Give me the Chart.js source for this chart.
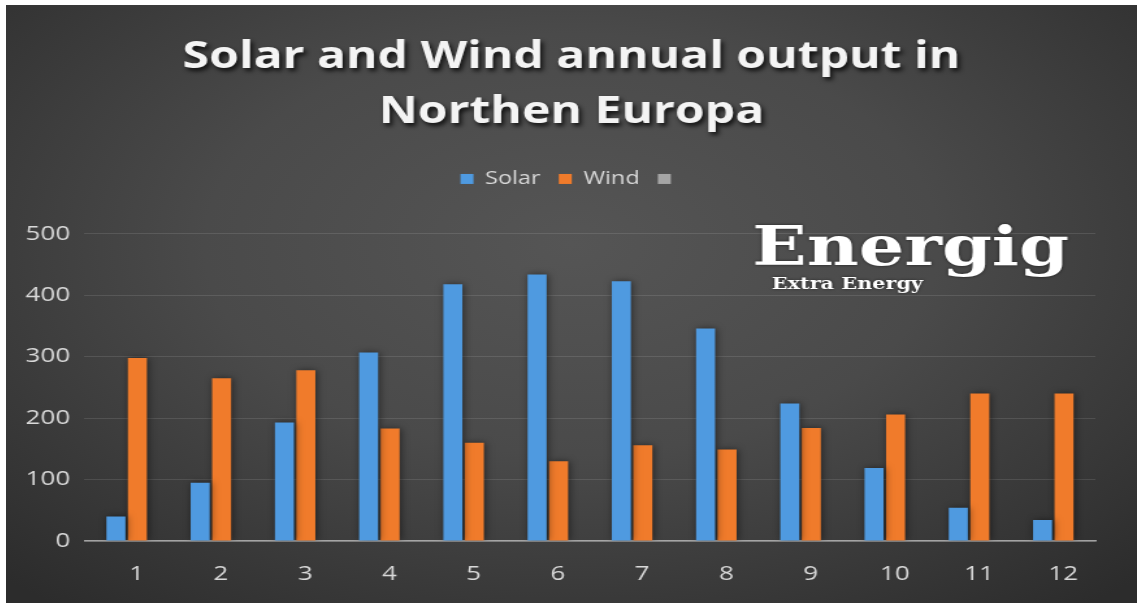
<!DOCTYPE html>
<html>
<head>
<meta charset="utf-8">
<title>Solar and Wind annual output</title>
<script src="https://cdn.jsdelivr.net/npm/chart.js@4.4.1/dist/chart.umd.min.js"></script>
<style>
  html, body { margin: 0; background: #fff; }
  #panel {
    position: absolute; left: 6px; top: 5px; width: 1131px; height: 598px; overflow: hidden;
    background: radial-gradient(ellipse 72% 78% at 50% 40%, #555 0%, #4a4a4a 45%, #2c2c2c 100%);
  }
  /* the chart is drawn narrower and stretched out sideways */
  #stretch { width: 870px; height: 598px; transform: scaleX(1.3); transform-origin: 0 0; }
  #chart { display: block; }
</style>
</head>
<body>
<div id="panel"><div id="stretch"><canvas id="chart" width="870" height="598"></canvas></div></div>
<script>
const months = ['1', '2', '3', '4', '5', '6', '7', '8', '9', '10', '11', '12'];
const solar = [40, 95, 193, 307, 418, 434, 423, 346, 224, 119, 54, 34];
const wind = [298, 265, 278, 183, 160, 130, 156, 149, 184, 206, 240, 240];
const yMin = 0, yMax = 500, yStep = 100;

const titleLines = ['Solar and Wind annual output in', 'Northen Europa'];
const seriesColors = { solar: '#4f9ae0', wind: '#f07b2b', empty: '#a5a5a5' };
const textColor = '#d9d9d9';
const font = "'Open Sans', 'DejaVu Sans', sans-serif";

// shadows, legend gap and the Energig logo
const decorations = {
  id: 'decorations',
  beforeInit(chart) {
    const legend = chart.legend;
    if (legend) {
      const fitLegend = legend.fit;
      legend.fit = function () {
        fitLegend.call(this);
        this.height += 36;
      };
    }
    const title = chart.titleBlock;
    if (title) {
      const drawTitle = title.draw;
      title.draw = function () {
        const ctx = this.ctx;
        ctx.save();
        ctx.shadowColor = 'rgba(0,0,0,0.8)';
        ctx.shadowOffsetX = 2;
        ctx.shadowOffsetY = 3;
        ctx.shadowBlur = 4;
        drawTitle.apply(this, arguments);
        ctx.restore();
      };
    }
  },
  beforeDatasetsDraw(chart) {
    const ctx = chart.ctx;
    ctx.save();
    ctx.shadowColor = 'rgba(0,0,0,0.5)';
    ctx.shadowOffsetX = 1;
    ctx.shadowBlur = 6;
  },
  afterDatasetsDraw(chart) {
    chart.ctx.restore();
  },
  afterDraw(chart) {
    const ctx = chart.ctx;
    ctx.save();
    ctx.fillStyle = '#ffffff';
    ctx.shadowColor = 'rgba(0,0,0,0.6)';
    ctx.shadowBlur = 3;
    ctx.textBaseline = 'alphabetic';
    ctx.textAlign = 'left';
    ctx.font = "bold 55px 'DejaVu Serif', serif";
    ctx.fillText('Energig', 574, 260);
    ctx.font = "bold 16px 'DejaVu Serif', serif";
    ctx.fillText('Extra Energy', 589, 284);
    ctx.restore();
  }
};

new Chart(document.getElementById('chart'), {
  type: 'bar',
  data: {
    labels: months,
    datasets: [
      {
        label: 'Solar',
        data: solar,
        backgroundColor: seriesColors.solar,
        categoryPercentage: 0.51,
        barPercentage: 0.885
      },
      {
        label: 'Wind',
        data: wind,
        backgroundColor: seriesColors.wind,
        categoryPercentage: 0.51,
        barPercentage: 0.885
      },
      {
        label: '',
        data: [],
        backgroundColor: seriesColors.empty,
        grouped: false
      }
    ]
  },
  options: {
    responsive: false,
    animation: false,
    layout: { padding: { left: 0, right: 0, top: 0, bottom: 17 } },
    plugins: {
      title: {
        display: true,
        text: titleLines,
        color: '#f4f4f4',
        font: { family: font, size: 37, weight: 'bold', lineHeight: 1.486 },
        padding: { top: 25, bottom: 16 }
      },
      legend: {
        display: true,
        position: 'top',
        labels: {
          color: textColor,
          boxWidth: 10,
          boxHeight: 10,
          padding: 14,
          font: { family: font, size: 18 }
        }
      },
      tooltip: { enabled: false }
    },
    scales: {
      x: {
        afterFit(scale) { scale.height = 45; },
        grid: { display: false, drawTicks: false },
        border: { display: true, color: 'rgba(200,200,200,0.75)', width: 1.5 },
        ticks: {
          color: textColor,
          padding: 21,
          labelOffset: 7.7,
          font: { family: font, size: 20 }
        }
      },
      y: {
        min: yMin,
        max: yMax,
        afterFit(scale) { scale.width = 60.4; },
        grid: { color: 'rgba(255,255,255,0.11)', lineWidth: 1, drawTicks: false },
        border: { display: false },
        ticks: {
          stepSize: yStep,
          color: textColor,
          padding: 11,
          font: { family: font, size: 20 }
        }
      },
      // empty right-hand margin, kept out of the title and legend width
      gutter: {
        position: 'right',
        grid: { display: false, drawTicks: false },
        border: { display: false },
        ticks: { display: false },
        afterFit(scale) { scale.width = 32; }
      }
    }
  },
  plugins: [decorations]
});
</script>
</body>
</html>
